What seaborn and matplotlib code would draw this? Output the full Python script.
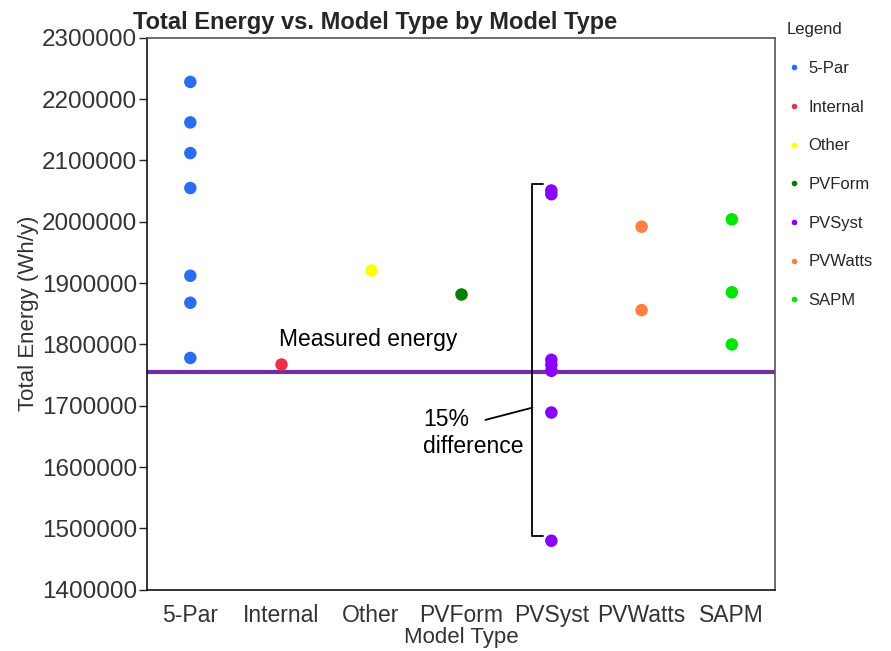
import matplotlib
matplotlib.use("Agg")
import matplotlib.pyplot as plt
import seaborn as sns
import pandas as pd

# values (Wh/y)
models = ["5-Par", "Internal", "Other", "PVForm", "PVSyst", "PVWatts", "SAPM"]
five_par = [2228000, 2162000, 2112000, 2055000, 1912000, 1868000, 1778000]
internal = [1768000]
other = [1921000]
pvform = [1882000]
pvsyst = [2051000, 2045000, 1775000, 1767000, 1757000, 1689000, 1480000]
pvwatts = [1992000, 1856000]
sapm = [2004000, 1885000, 1800000]
measured_energy = 1755700
y_ticks = [1400000, 1500000, 1600000, 1700000, 1800000, 1900000,
           2000000, 2100000, 2200000, 2300000]

colors = {"5-Par": "#2a6cf2", "Internal": "#ee2f4a", "Other": "#ffff00",
          "PVForm": "#007f00", "PVSyst": "#8a00ff", "PVWatts": "#ff7f40",
          "SAPM": "#00e600"}

series = [five_par, internal, other, pvform, pvsyst, pvwatts, sapm]
rows = []
for name, vals in zip(models, series):
    for v in vals:
        rows.append({"Model Type": name, "Total Energy": v})
df = pd.DataFrame(rows)

sns.set_theme(style="white")
plt.rcParams['font.family'] = ['Liberation Sans', 'DejaVu Sans']

fig = plt.figure(figsize=(8.91, 6.51), dpi=100)
ax = fig.add_axes([0.165, 0.094, 0.705, 0.848])

sns.stripplot(data=df, x="Model Type", y="Total Energy", hue="Model Type",
              order=models, hue_order=models, palette=colors, jitter=False,
              size=9, linewidth=0, ax=ax, legend=True)

ax.axhline(measured_energy, color="#7030a0", lw=3, zorder=1)

ax.set_xlim(-0.48, 6.48)
ax.set_ylim(1400000, 2300000)
ax.set_yticks(y_ticks)
ax.set_yticklabels([str(t) for t in y_ticks])
ax.tick_params(axis="y", left=True, length=6, width=1, color="#222222",
               labelsize=17.5, labelcolor="#333333", pad=1)
ax.tick_params(axis="x", bottom=False, labelsize=16.5, labelcolor="#333333", pad=4)

for side in ["left", "bottom"]:
    ax.spines[side].set_color("#111111")
for side in ["top", "right"]:
    ax.spines[side].set_color("#555555")
for sp in ax.spines.values():
    sp.set_linewidth(1.2)

ax.set_xlabel("Model Type", fontsize=16, color="#333333", labelpad=0)
ax.set_ylabel("Total Energy (Wh/y)", fontsize=16, color="#333333", labelpad=2)
ax.set_title("Total Energy vs. Model Type by Model Type", fontsize=17,
             fontweight="bold", loc="left", x=-0.022, pad=6)

# annotations
ax.text(0.98, 1808000, "Measured energy", fontsize=16.5, color="black",
        ha="left", va="center")
ax.plot([3.91, 3.79, 3.79, 3.91], [2062000, 2062000, 1487000, 1487000],
        color="black", lw=1.3)
ax.plot([3.27, 3.79], [1677000, 1697000], color="black", lw=1.3)
ax.text(2.58, 1656000, "15%\ndifference", fontsize=16.5, color="black",
        ha="left", va="center", linespacing=1.25)

handles, labels = ax.get_legend_handles_labels()
ax.legend(handles, labels, title="Legend", loc="upper left",
          bbox_to_anchor=(0.995, 1.055), frameon=False, fontsize=12,
          title_fontsize=12, markerscale=0.45, labelspacing=1.42,
          handlelength=0.8, handletextpad=0.5, alignment="left")

fig.savefig("out.png", dpi=100)
